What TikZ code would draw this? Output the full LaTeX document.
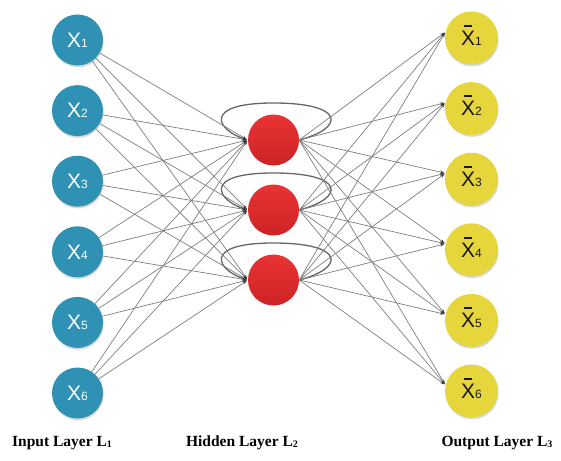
\documentclass[tikz,border=0pt]{standalone}
\usepackage{fontspec}
\setmainfont{Liberation Serif}
\setsansfont{Liberation Sans}
\usetikzlibrary{arrows.meta,shadows,calc}
\definecolor{inblue}{HTML}{2F92B4}
\definecolor{outyellow}{HTML}{E6D63C}
\definecolor{hidred}{HTML}{E8282A}
\definecolor{edgegray}{HTML}{7E7E7E}
\definecolor{loopgray}{HTML}{666666}
\newcommand\inlab[1]{{\sffamily\fontsize{21}{21}\selectfont X\fontsize{12}{12}\selectfont #1}}
\newcommand\outlab[1]{{\sffamily\fontsize{21}{21}\selectfont\ooalign{X\cr\hidewidth\raisebox{0.88em}{\rule{0.4em}{0.09em}}\hidewidth\cr}\fontsize{12}{12}\selectfont #1}}
\newcommand\laysub[1]{\raisebox{-1pt}{\fontsize{10}{10}\selectfont #1}}
\tikzset{
  inode/.style={circle, minimum size=51pt, inner sep=0pt, fill=inblue, text=white,
    drop shadow={opacity=0.25, shadow xshift=0.6pt, shadow yshift=-1.8pt, fill=black!60}},
  onode/.style={circle, minimum size=53pt, inner sep=0pt, fill=outyellow, text=black!90,
    drop shadow={opacity=0.25, shadow xshift=0.6pt, shadow yshift=-1.8pt, fill=black!60}},
  hnode/.style={circle, minimum size=51pt, inner sep=0pt, top color=hidred!95!white, bottom color=hidred!88!black},
  edge/.style={draw=edgegray, line width=0.7pt, -{Stealth[length=4.5pt,width=3pt,color=black!75]}, shorten >=1pt},
  loopline/.style={draw=loopgray, line width=1.3pt, -{Stealth[length=5pt,width=3.5pt,color=black!80]}, shorten >=1pt},
  laylab/.style={font=\fontsize{15.5}{16}\selectfont\bfseries, text=black, inner sep=0pt}
}
\begin{document}
\begin{tikzpicture}[x=1pt,y=-1pt]
\useasboundingbox (0,0) rectangle (561,460);
% input nodes
\foreach \i in {1,...,6}{
  \node[inode] (x\i) at (77.5,{40+70.6*(\i-1)}) {\inlab{\i}};
}
% output nodes
\foreach \i in {1,...,6}{
  \node[onode] (o\i) at (471.5,{38+70.6*(\i-1)}) {\outlab{\i}};
}
% hidden nodes
\foreach \j in {1,2,3}{
  \node[hnode] (h\j) at (273.5,{140+70*(\j-1)}) {};
}
% recurrent loops
\foreach \j in {1,2,3}{
  \coordinate (t\j) at ($(h\j.center)+(0,-37)$);
  \draw[loopline] (h\j.east) .. controls +(46,-12) and +(72,0) .. (t\j)
     .. controls +(-72,0) and +(-31,-10) .. (h\j.west);
}
% input -> hidden
\foreach \i in {1,...,6}{
  \foreach \j in {1,2,3}{
    \draw[edge] (x\i) -- (h\j.west);
  }
}
% hidden -> output
\foreach \j in {1,2,3}{
  \foreach \i in {1,...,6}{
    \draw[edge] (h\j.east) -- (o\i.167);
  }
}
% layer labels
\node[laylab] (l1) at (62,443) {Input Layer L\laysub{1}};
\node[laylab] (l2) at (242,443) {Hidden Layer L\laysub{2}};
\node[laylab] (l3) at (497,443) {Output Layer L\laysub{3}};
\end{tikzpicture}
\end{document}
